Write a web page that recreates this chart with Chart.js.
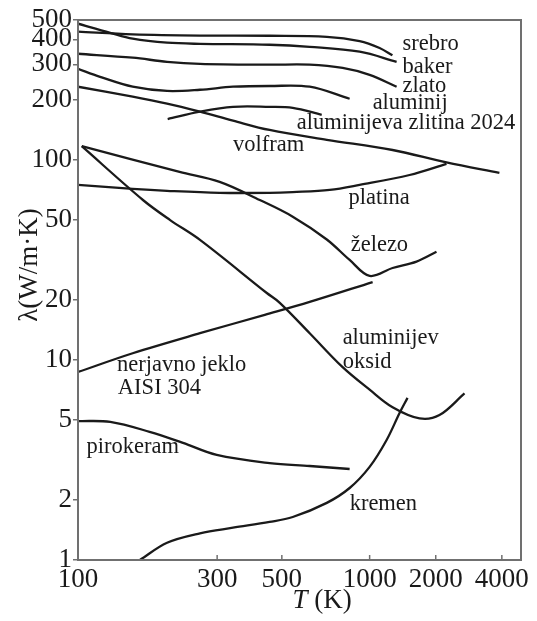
<!DOCTYPE html>
<html>
<head>
<meta charset="utf-8">
<script src="https://cdn.jsdelivr.net/npm/chart.js@4.4.1/dist/chart.umd.min.js"></script>
<style>
html, body { margin: 0; padding: 0; background: #fff; }
#wrap { width: 537px; height: 621px; }
</style>
</head>
<body>
<div id="wrap"><canvas id="canvas" width="537" height="621"></canvas></div>
<script>
// [T (K), lambda (W/m.K)]
const srebro = [[100,437],[154,424],[262,418],[454,417],[713,412],[924,392],[1110,362],[1270,333]];
const baker = [[100,479],[129,431],[154,403],[202,385],[262,380],[454,376],[623,367],[924,347],[1327,309]];
const zlato = [[100,339],[154,324],[202,309],[262,302],[454,299],[623,299],[808,288],[1000,266],[1327,232]];
const aluminij = [[100,285],[119,260],[154,232],[202,221],[262,224],[340,232],[454,234],[623,232],[854,202]];
const zlitina2024 = [[203,160],[262,174],[340,184],[454,184],[545,182],[685,168]];
const volfram = [[100,232],[154,207],[202,191],[262,174],[340,157],[454,141],[713,126],[1272,112],[2239,97],[3899,86]];
const platina = [[100,75],[154,71.6],[202,70],[306,68.4],[454,68.4],[545,69],[730,70.8],[924,75],[1520,84],[2239,95.5]];
const zelezo = [[103,117],[223,87],[306,77.6],[420,63],[545,52],[713,40],[854,31.6],[1000,26.3],[1272,28.8],[1635,31],[2016,34.7]];
const alOksid = [[103,117],[167,63],[207,50],[262,39.8],[444,21.6],[492,19.3],[623,13.6],[808,9.2],[1000,7.1],[1272,5.8],[1688,5.1],[2080,5.3],[2704,6.8]];
const nerjavno = [[100,8.7],[154,10.8],[262,13.6],[437,16.8],[623,19.5],[1032,24.5]];
const pirokeram = [[100,4.95],[129,4.9],[176,4.37],[229,3.85],[299,3.35],[454,3.05],[623,2.95],[854,2.85]];
const kremen = [[163,1.0],[202,1.22],[262,1.36],[340,1.45],[454,1.55],[545,1.64],[713,1.93],[854,2.29],[1000,2.92],[1195,3.98],[1369,5.43],[1488,6.46]];

const xTicks = [100, 300, 500, 1000, 2000, 4000];
const yTicks = [1, 2, 5, 10, 20, 50, 100, 200, 300, 400, 500];

// curve names, anchored at [T, lambda] (left edge, middle of text)
const labels = [
  ['srebro', 1413, 380], ['baker', 1413, 292], ['zlato', 1413, 234],
  ['aluminij', 1032, 193], ['aluminijeva zlitina 2024', 562, 153],
  ['volfram', 340, 119], ['platina', 847, 64.6], ['železo', 861, 37.6],
  ['aluminijev', 808, 12.9], ['oksid', 808, 9.8],
  ['nerjavno jeklo', 136, 9.4], ['AISI 304', 137, 7.2],
  ['pirokeram', 107, 3.67], ['kremen', 854, 1.9]
];

// the temperature axis of the original is log, squeezed above 1000 K
const SQUEEZE = 0.753;
function bend(t) {
  const l = Math.log10(t);
  return l <= 3 ? l : 3 + (l - 3) * SQUEEZE;
}
function unbend(u) {
  return u <= 3 ? Math.pow(10, u) : Math.pow(10, 3 + (u - 3) / SQUEEZE);
}
class BentLogScale extends Chart.LogarithmicScale {
  static id = 'bentlog';
  static defaults = {};
  getPixelForValue(v) {
    if (v === undefined || v <= 0) v = this.min;
    const a = bend(this.min), b = bend(this.max);
    return this.getPixelForDecimal((bend(v) - a) / (b - a));
  }
  getValueForPixel(p) {
    const a = bend(this.min), b = bend(this.max);
    return unbend(a + this.getDecimalForPixel(p) * (b - a));
  }
}
Chart.register(BentLogScale);

const serif = 'Liberation Serif';
const ink = '#1a1a1a';
const frame = '#707070';

const series = [srebro, baker, zlato, aluminij, zlitina2024, volfram, platina, zelezo, alOksid, nerjavno, pirokeram, kremen];

const paper = {
  id: 'paper',
  beforeDraw(chart) {
    const ctx = chart.ctx;
    ctx.save();
    ctx.fillStyle = '#fff';
    ctx.fillRect(0, 0, chart.width, chart.height);
    ctx.restore();
  },
  afterDraw(chart) {
    const ctx = chart.ctx, a = chart.chartArea;
    const xs = chart.scales.x, ys = chart.scales.y;
    ctx.save();
    ctx.strokeStyle = frame;
    ctx.lineWidth = 2;
    ctx.strokeRect(a.left, a.top, a.right - a.left, a.bottom - a.top);
    // x ticks point inward
    ctx.lineWidth = 1.5;
    xTicks.forEach(t => {
      const px = xs.getPixelForValue(t);
      ctx.beginPath();
      ctx.moveTo(px, a.bottom);
      ctx.lineTo(px, a.bottom - 5);
      ctx.stroke();
    });
    // curve names
    ctx.fillStyle = ink;
    ctx.font = '22.5px "' + serif + '"';
    ctx.textBaseline = 'middle';
    ctx.textAlign = 'left';
    labels.forEach(([txt, t, l]) => {
      ctx.fillText(txt, xs.getPixelForValue(t), ys.getPixelForValue(l));
    });
    // axis titles
    ctx.font = '27px "' + serif + '"';
    ctx.save();
    ctx.translate(30, 265);
    ctx.rotate(-Math.PI / 2);
    ctx.textAlign = 'center';
    ctx.fillText('λ(W/m·K)', 0, 0);
    ctx.restore();
    const it = 'italic 27px "' + serif + '"', rm = '27px "' + serif + '"';
    ctx.font = it; const w1 = ctx.measureText('T').width;
    ctx.font = rm; const w2 = ctx.measureText(' (K)').width;
    const x0 = 322 - (w1 + w2) / 2;
    ctx.font = it; ctx.fillText('T', x0, 601);
    ctx.font = rm; ctx.fillText(' (K)', x0 + w1, 601);
    ctx.restore();
  }
};

new Chart(document.getElementById('canvas'), {
  type: 'line',
  data: {
    datasets: series.map(s => ({
      data: s.map(p => ({ x: p[0], y: p[1] })),
      borderColor: ink,
      borderWidth: 2.3,
      pointRadius: 0,
      fill: false,
      tension: 0.35
    }))
  },
  options: {
    responsive: false,
    animation: false,
    layout: { padding: { top: 20, right: 16, left: 0, bottom: 0 } },
    plugins: { legend: { display: false }, tooltip: { enabled: false } },
    scales: {
      x: {
        type: 'bentlog',
        min: 100,
        max: 4890,
        afterBuildTicks: s => { s.ticks = xTicks.map(v => ({ value: v })); },
        afterFit: s => { s.height = 61; },
        grid: { display: false, drawTicks: false },
        border: { display: false },
        ticks: {
          autoSkip: false, maxRotation: 0, padding: 4,
          color: ink, font: { family: serif, size: 27 },
          callback: v => String(v)
        }
      },
      y: {
        type: 'logarithmic',
        min: 1,
        max: 500,
        afterBuildTicks: s => { s.ticks = yTicks.map(v => ({ value: v })); },
        afterFit: s => { s.width = 78; },
        grid: { drawOnChartArea: false, drawTicks: true, tickLength: 5, color: frame, lineWidth: 1.5 },
        border: { display: false },
        ticks: {
          autoSkip: false, padding: 1,
          color: ink, font: { family: serif, size: 27 },
          callback: v => String(v)
        }
      }
    }
  },
  plugins: [paper]
});
</script>
</body>
</html>
